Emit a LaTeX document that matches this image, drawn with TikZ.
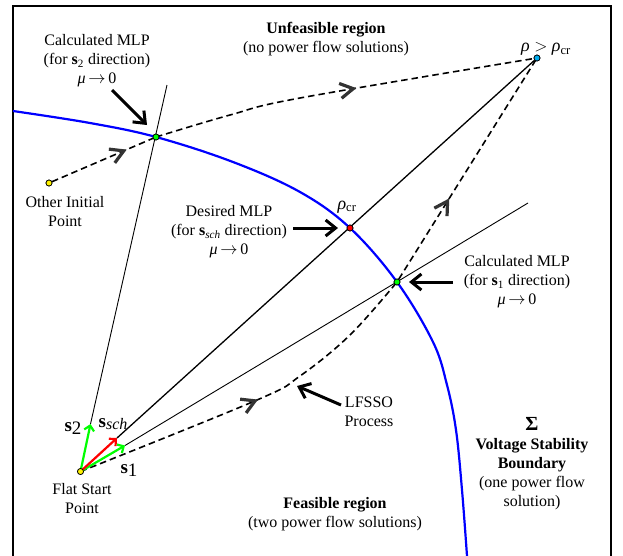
\documentclass[tikz,border=0pt]{standalone}
\usepackage{fontspec}
\setmainfont{Liberation Serif}
\usetikzlibrary{arrows.meta,decorations.markings}
\newcommand{\myrho}{\textit{ρ}}
\newcommand{\mymu}{\textit{μ}\,$\rightarrow$\,0}
\begin{document}
\begin{tikzpicture}[x=1pt,y=-1pt,
  pt/.style={circle, draw=black, line width=0.7pt, inner sep=0pt, minimum size=6pt},
  lbl/.style={align=center, font=\fontsize{16}{19}\selectfont, inner sep=0pt},
  bnd/.style={blue, line width=2.2pt},
  ray/.style={black, line width=0.9pt},
  dsh/.style={black, line width=1.6pt, dash pattern=on 6.5pt off 4pt},
  ptr/.style={black, line width=3pt, -{Straight Barb[length=10pt,width=16pt]}},
  vec/.style={line width=2.2pt, -{Straight Barb[length=5pt,width=10pt]}},
  midarrow/.style={postaction={decorate}, decoration={markings, mark=at position #1 with {\pgfsetlinewidth{3.2pt}\color{black!80}\arrow{Straight Barb[length=13pt,width=15pt]}}}}
]
\useasboundingbox (0,0) rectangle (623,555);
% frame
\draw[line width=2pt] (13,556) -- (13,6) -- (611,6) -- (611,556);

% points
\node[pt, fill=yellow] (fs) at (80.5,471.5) {};
\node[pt, fill=yellow] (oi) at (49,183) {};
\node[pt, fill=green] (g2) at (156,137) {};
\node[pt, fill=red] (cr) at (350,228) {};
\node[pt, fill=green] (g1) at (397,282) {};
\node[pt, fill=cyan] (cy) at (537,58) {};

% boundary
\draw[bnd] plot[smooth, tension=0.6] coordinates {(13,111) (90,123) (156,137) (233,162) (300,192) (350,228) (397,282) (433,342) (447,385) (456,430) (462,490) (467,556)};

% direction vectors
\coordinate (t2) at (90.5,424);
\coordinate (tsch) at (117,438);
\coordinate (t1) at (125,445.5);
\coordinate (e2) at (167,85);
\coordinate (e1) at (528,203);
\draw[ray] (t2) -- (e2);
\draw[ray, line width=1.3pt] (tsch) -- (cy);
\draw[ray] (t1) -- (e1);

% dashed paths
\draw[dsh, midarrow=0.74] (oi) -- (g2);
\draw[dsh, midarrow=0.53] plot[smooth, tension=0.6] coordinates {(g2) (230,115) (300,98) (537,58)};
\draw[dsh, midarrow=0.51] plot[smooth, tension=0.6] coordinates {(fs) (257,400) (300,376) (350,335) (397,282)};
\draw[dsh, midarrow=0.37] (g1) -- (cy);

\draw[vec, green] (fs.center) -- (t2);
\draw[vec, green] (fs.center) -- (t1);
\draw[vec, red] (fs.center) -- (tsch);

% redraw points on top
\node[pt, fill=yellow] at (fs) {};
\node[pt, fill=yellow] at (oi) {};
\node[pt, fill=green] at (g2) {};
\node[pt, fill=red] at (cr) {};
\node[pt, fill=green] at (g1) {};
\node[pt, fill=cyan] at (cy) {};

% labels
\node[lbl] (unf) at (326,39.5) {\textbf{Unfeasible region}\\(no power flow solutions)};
\node[lbl] (c2) at (97,61) {Calculated MLP\\(for \textbf{s}\textsubscript{2} direction)\\\mymu};
\node[lbl] (oil) at (65,212) {Other Initial\\Point};
\node[lbl] (des) at (229,232) {Desired MLP\\(for \textbf{s}\textsubscript{\textit{sch}} direction)\\\mymu};
\node[lbl, font=\fontsize{18}{20}\selectfont] (rcr) at (347,207) {\myrho\textsubscript{cr}};
\node[lbl, font=\fontsize{18}{20}\selectfont] (rgt) at (546,49) {\myrho\ $>$ \myrho\textsubscript{cr}};
\node[lbl] (c1) at (517,282) {Calculated MLP\\(for \textbf{s}\textsubscript{1} direction)\\\mymu};
\node[lbl] (lf) at (369,412) {LFSSO\\Process};
\node[lbl] (vsb) at (532,464) {{\fontsize{20}{20}\selectfont\textbf{Σ}}\\\textbf{Voltage Stability}\\\textbf{Boundary}\\(one power flow\\solution)};
\node[lbl] (fea) at (335,514) {\textbf{Feasible region}\\(two power flow solutions)};
\node[lbl] (fsl) at (82,498.5) {Flat Start\\Point};
\node[lbl, font=\fontsize{19}{20}\selectfont] (ls2) at (73,428) {\textbf{s}\raisebox{-0.3ex}{2}};
\node[lbl, font=\fontsize{19}{20}\selectfont] (lsch) at (113,424) {\textbf{s}\raisebox{-0.3ex}{\fontsize{16}{16}\selectfont\textit{sch}}};
\node[lbl, font=\fontsize{19}{20}\selectfont] (ls1) at (129,470) {\textbf{s}\raisebox{-0.3ex}{1}};

% pointer arrows
\coordinate (p2a) at (112,90);
\coordinate (p2b) at (147,125);
\coordinate (pda) at (293,228);
\coordinate (pdb) at (338,228);
\coordinate (p1a) at (453,282);
\coordinate (p1b) at (409,282);
\coordinate (pla) at (341,405);
\coordinate (plb) at (297,386);
\draw[ptr] (p2a) -- (p2b);
\draw[ptr] (pda) -- (pdb);
\draw[ptr] (p1a) -- (p1b);
\draw[ptr] (pla) -- (plb);
\end{tikzpicture}
\end{document}
